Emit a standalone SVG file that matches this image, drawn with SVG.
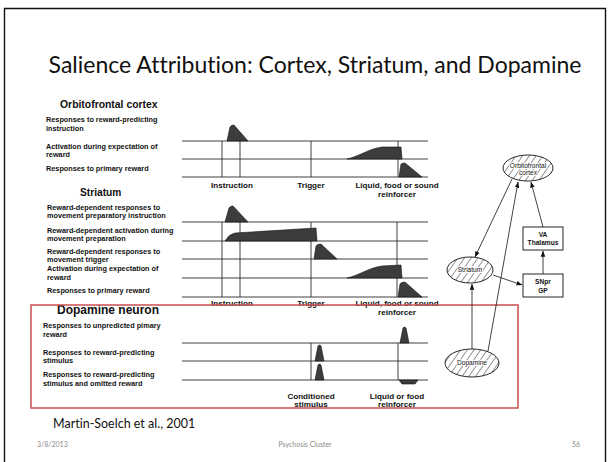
<svg xmlns="http://www.w3.org/2000/svg" width="610" height="462" viewBox="0 0 610 462">
  <defs>
    <pattern id="hatch" width="5.5" height="5.5" patternUnits="userSpaceOnUse" patternTransform="rotate(35)">
      <line x1="0" y1="0" x2="0" y2="5.5" stroke="#111" stroke-width="0.9"/>
    </pattern>
    <marker id="arr" viewBox="0 0 8 8" refX="7.5" refY="4" markerWidth="6" markerHeight="6" orient="auto" markerUnits="userSpaceOnUse">
      <path d="M0,1 L8,4 L0,7 Z" fill="#111"/>
    </marker>
    <style>
      .title { font-family: Lato, "Open Sans", sans-serif; font-size: 23px; fill: #111; font-variant-ligatures: none; }
      .cite { font-family: Lato, "Open Sans", sans-serif; font-size: 12.5px; fill: #111; font-variant-ligatures: none; }
      .foot { font-family: Lato, "Open Sans", sans-serif; font-size: 7px; fill: #8a8a8a; }
      .hd { font-family: "Liberation Sans", Arial, sans-serif; font-weight: bold; fill: #111; }
      .lb { font-family: "Liberation Sans", Arial, sans-serif; font-weight: bold; font-size: 7.3px; fill: #111; }
      .ax { font-family: "Liberation Sans", Arial, sans-serif; font-weight: bold; font-size: 8.1px; fill: #111; text-anchor: middle; }
      .nd { font-family: "Liberation Sans", Arial, sans-serif; font-size: 6.6px; fill: #111; text-anchor: middle; stroke: #fff; stroke-width: 2; paint-order: stroke; }
      .ndb { font-family: "Liberation Sans", Arial, sans-serif; font-weight: bold; font-size: 6.6px; fill: #111; text-anchor: middle; }
      .tr { stroke: #2a2a2a; stroke-width: 0.9; fill: none; }
      .pk { fill: #3c3c3c; stroke: #111; stroke-width: 0.6; }
      .ell { fill: url(#hatch); stroke: #111; stroke-width: 0.9; }
      .box { fill: #fff; stroke: #111; stroke-width: 0.9; }
      .con { stroke: #111; stroke-width: 0.8; fill: none; marker-end: url(#arr); }
    </style>
  </defs>

  <rect width="610" height="462" fill="#fff"/>
  <!-- slide frame -->
  <path d="M4.5,470 V8.5 H605.5 V470" fill="none" stroke="#111" stroke-width="1.4"/>

  <text class="title" x="315" y="73" text-anchor="middle">Salience Attribution: Cortex, Striatum, and Dopamine</text>

  <!-- Orbitofrontal cortex panel -->
  <g id="ofc-panel">
    <text class="hd" x="60" y="108" font-size="10.4">Orbitofrontal cortex</text>
    <text class="lb" x="46" y="122">Responses to reward-predicting</text>
    <text class="lb" x="46" y="131">instruction</text>
    <text class="lb" x="46" y="149">Activation during expectation of</text>
    <text class="lb" x="46" y="157">reward</text>
    <text class="lb" x="46" y="171">Responses to primary reward</text>
    <path class="tr" d="M182,141 H428 M182,159 H428 M182,177 H428 M222,141 V177 M240,141 V177 M311,141 V177 M398,141 V177"/>
    <path class="pk" d="M227,141 L230,127 Q231,125 234,125 L248,141 Z"/>
    <path class="pk" d="M347,159 C360,156 368,149 382,147 L401,147 L402,159 Z"/>
    <path class="pk" d="M399,177 L401,164 Q402,163 405,163 L422,177 Z"/>
    <text class="ax" x="232" y="188">Instruction</text>
    <text class="ax" x="311" y="188">Trigger</text>
    <text class="ax" x="397" y="188">Liquid, food or sound</text>
    <text class="ax" x="397" y="197">reinforcer</text>
  </g>

  <!-- Striatum panel -->
  <g id="striatum-panel">
    <text class="hd" x="80" y="196" font-size="10.2">Striatum</text>
    <text class="lb" x="47" y="210">Reward-dependent responses to</text>
    <text class="lb" x="47" y="218">movement preparatory instruction</text>
    <text class="lb" x="47" y="233">Reward-dependent activation during</text>
    <text class="lb" x="47" y="241">movement preparation</text>
    <text class="lb" x="47" y="254">Reward-dependent responses to</text>
    <text class="lb" x="47" y="262">movement trigger</text>
    <text class="lb" x="47" y="271">Activation during expectation of</text>
    <text class="lb" x="47" y="280">reward</text>
    <text class="lb" x="47" y="293">Responses to primary reward</text>
    <path class="tr" d="M182,222 H428 M182,241 H428 M182,259 H428 M182,278 H428 M182,297 H428 M222,222 V297 M240,222 V297 M311,222 V297 M397,222 V297"/>
    <path class="pk" d="M225,222 L229,208 Q230,206 233,206 L248,222 Z"/>
    <path class="pk" d="M225,241 Q229,234 235,233 L316,228 L317,241 Z"/>
    <path class="pk" d="M314,259 L316,246 Q317,244 321,244 L337,259 Z"/>
    <path class="pk" d="M347,278 C360,275 368,268 382,266 L401,265 L402,278 Z"/>
    <path class="pk" d="M398,297 L400,284 Q401,282 405,282 L422,297 Z"/>
    <text class="ax" x="232" y="306">Instruction</text>
    <text class="ax" x="311" y="306">Trigger</text>
    <text class="ax" x="397" y="306">Liquid, food or sound</text>
    <text class="ax" x="397" y="315">reinforcer</text>
  </g>

  <!-- Dopamine neuron panel -->
  <g id="dopamine-panel">
    <text class="hd" x="57" y="314" font-size="12">Dopamine neuron</text>
    <text class="lb" x="43" y="328">Responses to unpredicted pimary</text>
    <text class="lb" x="43" y="337">reward</text>
    <text class="lb" x="43" y="355">Responses to reward-predicting</text>
    <text class="lb" x="43" y="363">stimulus</text>
    <text class="lb" x="43" y="377">Responses to reward-predicting</text>
    <text class="lb" x="43" y="386">stimulus and omitted reward</text>
    <path class="tr" d="M182,343 H428 M182,361 H428 M182,380 H428 M311,343 V380 M398,343 V380"/>
    <path class="pk" d="M400,343 L403,328 Q404.5,326 406,328 L409,343 Z"/>
    <path class="pk" d="M315,361 L318,346 Q319.5,344 321,346 L324,361 Z"/>
    <path class="pk" d="M315,380 L318,365 Q319.5,363 321,365 L324,380 Z"/>
    <path class="pk" d="M399,380 L418,380 L415,384 L402,384 Z"/>
    <text class="ax" x="311" y="399">Conditioned</text>
    <text class="ax" x="311" y="407">stimulus</text>
    <text class="ax" x="397" y="399">Liquid or food</text>
    <text class="ax" x="397" y="407">reinforcer</text>
  </g>

  <!-- highlight box around the dopamine panel -->
  <rect x="31" y="305" width="487" height="103" fill="none" stroke="#c9504d" stroke-width="1.5"/>

  <!-- circuit diagram -->
  <g id="connectors">
    <line class="con" x1="512" y1="179" x2="475" y2="257"/>
    <line class="con" x1="488" y1="351" x2="518" y2="182"/>
    <line class="con" x1="543" y1="227" x2="531" y2="182"/>
    <line class="con" x1="472" y1="349" x2="472" y2="284"/>
    <line class="con" x1="493" y1="275" x2="522" y2="285"/>
    <line class="con" x1="543" y1="274" x2="543" y2="251"/>
  </g>
  <g id="orbitofrontal-cortex">
    <ellipse class="ell" cx="528" cy="168" rx="25" ry="13"/>
    <text class="nd" x="528" y="168">Orbitofrontal</text>
    <text class="nd" x="528" y="175">cortex</text>
  </g>
  <g id="va-thalamus">
    <rect class="box" x="523" y="227" width="40" height="23"/>
    <text class="ndb" x="543" y="237">VA</text>
    <text class="ndb" x="543" y="245">Thalamus</text>
  </g>
  <g id="striatum">
    <ellipse class="ell" cx="470" cy="270" rx="23" ry="13"/>
    <text class="nd" x="470" y="272">Striatum</text>
  </g>
  <g id="snpr-gp">
    <rect class="box" x="523" y="274" width="40" height="23"/>
    <text class="ndb" x="543" y="284" font-weight="normal">SNpr</text>
    <text class="ndb" x="543" y="293" font-weight="normal">GP</text>
  </g>
  <g id="dopamine">
    <ellipse class="ell" cx="472" cy="363" rx="27" ry="14"/>
    <text class="nd" x="472" y="365" font-size="7">Dopamine</text>
  </g>

  <text class="cite" x="53" y="428">Martin-Soelch et al., 2001</text>
  <text class="foot" x="37" y="447">3/8/2013</text>
  <text class="foot" x="305" y="447" text-anchor="middle">Psychosis Cluster</text>
  <text class="foot" x="580" y="447" text-anchor="end">56</text>
</svg>
